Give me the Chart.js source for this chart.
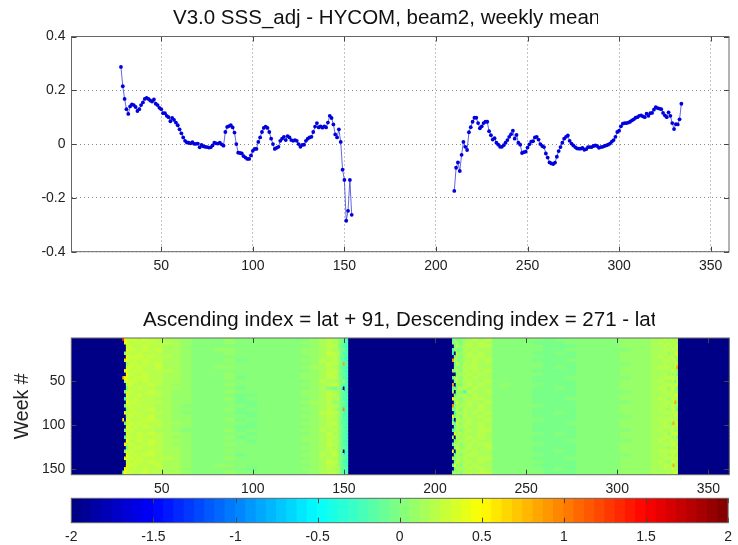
<!DOCTYPE html>
<html><head><meta charset="utf-8">
<script src="https://cdn.jsdelivr.net/npm/chart.js@4"></script>
<style>
html,body{margin:0;padding:0;background:#fff;width:738px;height:545px;overflow:hidden}
canvas{position:absolute;left:0;filter:blur(0.35px)}
</style></head><body>
<canvas id="c1" width="738" height="280" style="top:0"></canvas>
<canvas id="c2" width="738" height="205" style="top:295px"></canvas>
<canvas id="c3" width="738" height="55" style="top:490px"></canvas>
<script>
const titleTop = "V3.0 SSS_adj - HYCOM, beam2, weekly mean";
const titleHeat = "Ascending index = lat + 91, Descending index = 271 - lat";
const latTicks = [50,100,150,200,250,300,350];
const meanTicks = [-0.4,-0.2,0,0.2,0.4];
const weekTicks = [50,100,150];
const barTicks = [-2,-1.5,-1,-0.5,0,0.5,1,1.5,2];

const ascStart = 28;
const ascMean = [.287,.215,.168,.13,.112,.14,.148,.145,.138,.123,.13,.145,.155,.168,.172,.168,.162,.158,.166,.15,.145,.135,.13,.115,.115,.105,.1,.085,.097,.09,.08,.07,.055,.04,.025,.012,.006,.005,.003,.007,.001,.001,.002,-.012,-.003,-.008,-.01,-.011,-.013,-.012,-.005,.005,.003,.002,.005,-.001,-.006,.045,.064,.067,.07,.062,.043,.0,-.032,-.033,-.035,-.045,-.05,-.055,-.055,-.042,-.025,-.018,-.018,.008,.025,.045,.06,.065,.06,.045,.02,.0,-.018,-.014,-.01,.012,.02,.027,.015,.03,.025,.015,.012,.015,.012,.0,-.01,-.003,-.002,.012,.02,.025,.027,.045,.065,.078,.062,.066,.061,.066,.062,.08,.105,.097,.073,.036,.025,.055,.008,-.095,-.133,-.285,-.248,-.133,-.263];
const descStart = 210;
const descMean = [-.174,-.088,-.068,-.1,-.04,.008,-.01,-.022,.044,.063,.083,.098,.098,.078,.059,.066,.078,.083,.083,.048,.033,.017,.022,.005,-.002,-.01,-.01,-.004,.005,.015,.027,.037,.05,.02,.034,.005,-.002,-.033,-.03,-.028,-.013,-.001,.009,.011,.025,.027,.017,0,-.007,-.011,-.035,-.05,-.068,-.072,-.074,-.069,-.047,-.026,-.011,.005,.02,.027,.032,.012,.002,-.005,-.011,-.016,-.017,-.017,-.014,-.021,-.019,-.011,-.011,-.011,-.007,-.005,-.007,-.014,-.011,-.01,-.007,-.005,-.002,.002,.009,.015,.027,.045,.05,.066,.076,.078,.078,.08,.083,.088,.092,.098,.1,.105,.107,.103,.1,.113,.105,.115,.116,.128,.137,.134,.132,.13,.116,.107,.1,.118,.105,.078,.056,.074,.073,.092,.15];

// heat-map cell boundaries in the index (latitude) axis
const ascEdges = [28,29,30,31,32,34,36,39,42,46,50,55,60,66,72,78,84,90,96,102,108,114,120,126,131,136,140,143,146,147,148,149,150,151,152];
const descEdges = [209,210,211,212,213,215,217,220,223,227,231,236,241,247,253,259,265,271,277,283,289,295,301,307,313,318,322,325,327,329,330,331,332,333,334];
const axisEdgeLow = 0, axisEdgeHigh = 362;
const weeksPerRow = 4;
// one character per cell: "." = -2, otherwise base-36 digit d gives value d*0.05-0.4
const ascRows = [
"zkfd ddcdcc bba999 a88999 99abcb a87654",
".gfd cddcdc cba999 a88899 9aabcb b97644",
"..ed dccdcc bba999 988999 99abcc a96544",
"..fe edcdcd bba99a a88899 9aabcb b86754",
".ade ccdccc bba999 a88999 9aabdc c97345",
"..gf dedcdc cba999 988999 99abcc a96654",
".kfd cdcdcc bba999 a78999 9aacbc b87544",
"..9c ddcdcd bba999 988899 99abdc c96p55",
"..ef dcdccd bba99a a88999 9abbcb a86534",
".ggd cddccc cba999 988999 99abcc b97544",
"..je dccdcc bba999 a88899 9aabdc a96654",
"pjge cdddcc bba998 a78999 9aabcc b87344",
".afd ddcdcc bba999 988999 99acbb a96c54",
"..cf dcccdc baa999 a88899 9aabcd c97545",
"..6d ccdccb bba998 978999 99ab97 a83.54",
".8ed dcccdc baa999 a88899 9aabcb b87644",
"..fd ccdccc baa988 977899 9aabdc a96554",
".4ce cdcccb baa998 a78899 99abcb c87345",
"..ge ddcccc baa989 977999 9abbca a97654",
".7fd ccdccb ba9998 987899 99abcc b86544",
"..9d dcccdb baa988 a78899 9aabcb 985r54",
".hed cdcccc ba9998 977899 99acdc c96544",
"..be dcdcdb baa999 987999 9aabcc a87364",
"k.fd cccddc baa998 a78899 99abcb b96544",
".6ed dcdccc bba988 987899 9aabcd a85654",
"..gf cdcdcc baa999 977999 99abcb c97544",
".8ce dccccb ba9998 a78899 9aacbc a96734",
"..fd ccdcdc bba998 987899 99abdb b87544",
".5ed dcdccc baa999 a78999 9aabcc a96654",
"..he ccdcdc bba998 987899 9aabcb c97344",
".jcd dcccdc baa999 a88899 99abdc a86544",
"..6e cddccc bba999 988999 9aabcb b96754",
".9fd dcccdc bba998 a88899 99abcc a87.44",
"..ie cdcddc bba999 978999 9aacbd c96544",
".gde dcdccc cba999 a88899 99abcb a97654",
"..cf cddcdc bba999 988999 9aabdc b86344",
"..gd ddcccd bba99a a88899 99abcc a97544",
".jfe cdcdcc bba999 987999 9aabcb c96654",
"8hed dccdcc bba999 a88999 99abcc a87544"
];
const descRows = [
"6a77 9abcbc 999887 888888 aaabbc bcbae.",
"89ab 7bcbcb 999877 788899 aaabcb cbdcb.",
".7ca abcbcc 999887 778888 aaabbc bcacd.",
"5b96 8cbcbb 998887 788889 9aabbc cbdbc.",
"4.cb abcbcb 999877 878888 aaabbc acbef.",
".8a9 9bcccb 999887 778899 aaabcb bdcac.",
"pcb7 abbcbc 998877 788888 aaabbc cbcdb.",
".5dc 9cbcbb 999887 778889 9aabbc bcadc.",
".a89 abccbb 999887 878888 aaabcc cbbep.",
"a8cb 9cbcbc 998877 778899 aaabbb bcdba.",
"..9a bbcbcb 999887 778888 aaabbc ab9c7.",
"6bca 9cbcbb 998877 788889 9aabbc cddbc.",
".7cb abcbbc 999877 778888 aaabcb bac6d.",
"p.ab 9bcbcb 9a8887 778899 aaabbc cdbed.",
"4a6c bcbcbb 998877 878888 aaabcc aceb7.",
"c.ab a4cbbc 998877 778889 9aabbc bdcac.",
".79b bcbcbb 999877 778888 aaabbb ccbfd.",
"jcab 9bbccb 998877 788899 aaabcc acdbc.",
".7dc abcbbc 999877 778888 9aabbc cbcpa.",
"r9ac bbcbcb 998887 778889 aaabbc bedac.",
"a6cb 9cbbcb 998877 778888 aaabcb aceb7.",
".2ac bcbcbc 999877 878899 aaabbc cbdcd.",
"j7cb 9cbbcb 998877 778888 9aabbb bcafc.",
"3.ac bbcbbc 999887 778889 aaabcc cdbcb.",
"c4db abcbcb 998877 788888 aaabbc bapcd.",
".7ac bcbbcb 999877 778899 aaabbc cbdbc.",
"37cb 9bcbcc 998877 778888 9aabcb becac.",
".h9c bcbbcb 999887 878889 aaabbc acdfd.",
"a.dc abcbcb 998877 778888 aaabbc cbac7.",
".7bb bcbcbb 999877 788899 9aabcb bdcbc.",
"6cac 9bcbcc 998887 778888 aaabbc ccedb.",
".8db abcbbc 999877 778889 aaabbb acbad.",
"h.ac bcbcbb 998877 878888 aaabcc cdcfc.",
".6cb 9bccbb 999887 778899 9aabbc bbdac.",
"c8ab bcbbcc 998877 788888 aaabbc cecbd.",
".7dc abcbcb 999887 778889 aaabcb aedcb.",
"5i9b 9cbcbb 998877 778888 aaabbc cbpac.",
".6ca bbcbcb 999887 878899 aaabbc bcdbc.",
"8bab 9bcbcc 999887 778888 aaabbb cbcec."
];

function jet(i){ // MATLAB jet colormap with 64 levels
  const x=(i+0.5)/64;
  const f=c=>Math.round(255*Math.max(0,Math.min(1,1.5-Math.abs(4*x-c))));
  return `rgb(${f(3)},${f(2)},${f(1)})`;
}
const COLOR_LEVELS=64;
const valueColor=v=>jet(Math.max(0,Math.min(63,Math.floor((v+2)/4*COLOR_LEVELS))));
const cellValue=c=>c==='.'?-2:parseInt(c,36)*0.05-0.4;

const allEdges=[axisEdgeLow,...ascEdges,...descEdges,axisEdgeHigh];
const rowCells=ascRows.map((r,i)=>('.'+r.replace(/ /g,'')+'.'+descRows[i].replace(/ /g,'')+'.'));
const rowWeeks=ascRows.map((r,i)=>i*weeksPerRow+weeksPerRow/2+0.5);
const heatSets=[];
for(let k=0;k<allEdges.length-1;k++){
  const width=allEdges[k+1]-allEdges[k];
  heatSets.push({
    data:rowWeeks.map(w=>({x:width,y:w})),
    backgroundColor:rowCells.map(r=>valueColor(cellValue(r[k]||'.'))),
    borderWidth:0,inflateAmount:0.6,barPercentage:1,categoryPercentage:1
  });
}

const barLevels=Array.from({length:COLOR_LEVELS},(_,i)=>-2+(i+0.5)/16);

const frame={
  id:'frame',
  afterDraw(chart,args,opts){
    const {ctx,chartArea:a}=chart;
    ctx.save();
    ctx.strokeStyle='#444';ctx.lineWidth=1;
    const L=opts.tick||5;
    ctx.beginPath();
    const xs=chart.scales.x, ys=chart.scales.y;
    xs.ticks.forEach(t=>{const p=Math.round(xs.getPixelForValue(t.value))+.5;
      ctx.moveTo(p,a.top);ctx.lineTo(p,a.top+L);ctx.moveTo(p,a.bottom);ctx.lineTo(p,a.bottom-L);});
    if(ys.options.display) ys.ticks.forEach(t=>{const p=Math.round(ys.getPixelForValue(t.value))+.5;
      ctx.moveTo(a.left,p);ctx.lineTo(a.left+L,p);ctx.moveTo(a.right,p);ctx.lineTo(a.right-L,p);});
    ctx.stroke();
    ctx.strokeStyle='#666';
    ctx.strokeRect(a.left,a.top,a.right-a.left,a.bottom-a.top);
    if(opts.clipTitleAt){ctx.fillStyle='#fff';ctx.fillRect(opts.clipTitleAt,0,chart.width-opts.clipTitleAt,a.top-2);}
    ctx.restore();
  },
  afterLayout(chart,args,opts){
    if(opts.titleLeft&&chart.titleBlock){chart.titleBlock.left=opts.titleLeft;chart.titleBlock.right=chart.width+200;}
  }
};
const FONT="'Liberation Sans',Arial,sans-serif";
const tickFont={family:FONT,size:14};
const INK='#222';
const setTicks=arr=>s=>{s.ticks=arr.map(v=>({value:v}));};
const titleOpt=(text,top,bottom,size)=>({display:true,text,align:'start',color:'#111',font:{family:FONT,size,weight:'normal'},padding:{top,bottom}});
const base={responsive:false,animation:false,devicePixelRatio:1,events:[]};
Chart.register(frame);

new Chart(document.getElementById('c1'),{
  type:'line',
  data:{datasets:[ascMean.map((v,i)=>({x:ascStart+i,y:v})),descMean.map((v,i)=>({x:descStart+i,y:v}))].map(data=>({
    data,borderColor:'rgba(50,50,215,.75)',borderWidth:1,pointRadius:1.9,pointBackgroundColor:'#0000dd',pointBorderWidth:0,tension:0
  }))},
  options:{...base,
    layout:{autoPadding:false,padding:{left:0,right:9,top:0,bottom:0}},
    plugins:{legend:{display:false},tooltip:{enabled:false},title:titleOpt(titleTop,6.5,5.4,20.5),
      frame:{titleLeft:173,clipTitleAt:598}},
    scales:{
      x:{type:'linear',min:1,max:360,afterBuildTicks:setTicks(latTicks),afterFit(s){s.height=28.3;},
        grid:{color:'#888',drawTicks:false},border:{display:false,dash:[1,3]},
        ticks:{font:tickFont,color:INK,padding:6,maxRotation:0}},
      y:{min:-0.4,max:0.4,afterBuildTicks:setTicks(meanTicks),afterFit(s){s.width=71.5;},
        grid:{color:'#888',drawTicks:false},border:{display:false,dash:[1,3]},
        ticks:{font:tickFont,color:INK,padding:6,callback:v=>String(v)}}
    }}
});

new Chart(document.getElementById('c2'),{
  type:'bar',
  data:{datasets:heatSets},
  options:{...base,indexAxis:'y',
    layout:{autoPadding:false,padding:{left:0,right:8.7,top:0,bottom:0}},
    plugins:{legend:{display:false},tooltip:{enabled:false},title:titleOpt(titleHeat,13,5.4,20.5),
      frame:{titleLeft:143,clipTitleAt:655}},
    scales:{
      x:{type:'linear',stacked:true,min:0.4,max:361.5,afterBuildTicks:setTicks(latTicks),afterFit(s){s.height=25.3;},
        grid:{display:false,drawTicks:false},border:{display:false},
        ticks:{font:tickFont,color:INK,padding:6,maxRotation:0}},
      y:{type:'linear',stacked:true,reverse:true,offset:false,min:0.5,max:156.5,afterBuildTicks:setTicks(weekTicks),afterFit(s){s.width=71.3;},
        grid:{display:false,drawTicks:false,offset:false},border:{display:false},
        title:{display:true,text:'Week #',color:INK,font:{family:FONT,size:19.5},padding:{top:11,bottom:0}},
        ticks:{font:tickFont,color:INK,padding:6}}
    }}
});

new Chart(document.getElementById('c3'),{
  type:'bar',
  data:{datasets:[{data:barLevels.map(v=>({x:v,y:1})),backgroundColor:barLevels.map(valueColor),
    borderWidth:0,inflateAmount:0.6,barPercentage:1,categoryPercentage:1}]},
  options:{...base,
    layout:{autoPadding:false,padding:{left:71.3,right:8,top:8.3,bottom:0}},
    plugins:{legend:{display:false},tooltip:{enabled:false},title:{display:false},frame:{}},
    scales:{
      x:{type:'linear',offset:false,min:-2,max:2,afterBuildTicks:setTicks(barTicks),afterFit(s){s.height=22.3;},
        grid:{display:false,drawTicks:false,offset:false},border:{display:false},
        ticks:{font:tickFont,color:INK,padding:6,maxRotation:0,callback:v=>String(v)}},
      y:{display:false,min:0,max:1}
    }}
});
</script>
</body></html>
